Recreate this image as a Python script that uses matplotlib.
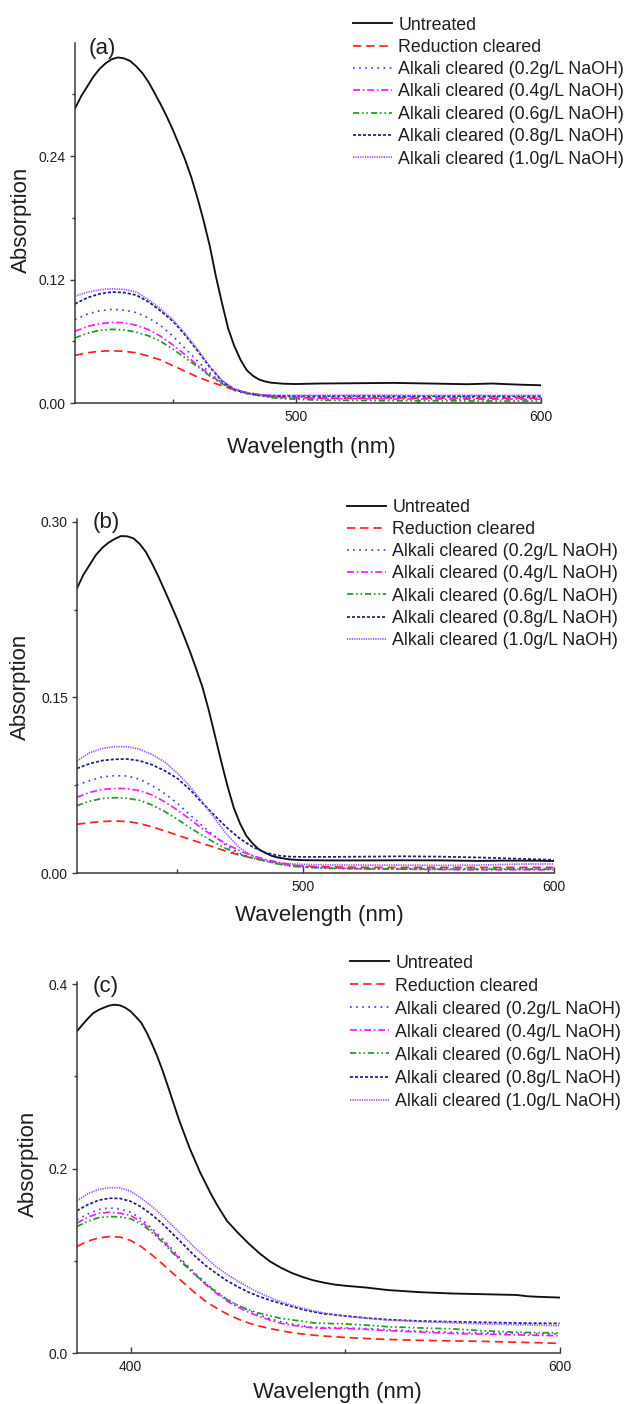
import matplotlib
matplotlib.use("Agg")
import matplotlib.pyplot as plt
from matplotlib.ticker import FixedLocator, FixedFormatter

plt.rcParams['font.family'] = ['Liberation Sans', 'DejaVu Sans']
plt.rcParams['lines.scale_dashes'] = False

# ---------------- data ----------------
series_labels = [
    "Untreated",
    "Reduction cleared",
    "Alkali cleared (0.2g/L NaOH)",
    "Alkali cleared (0.4g/L NaOH)",
    "Alkali cleared (0.6g/L NaOH)",
    "Alkali cleared (0.8g/L NaOH)",
    "Alkali cleared (1.0g/L NaOH)",
]

# panel (a)
wl_a_untreated = [410, 412.5, 415, 417.5, 420, 422.5, 425, 427.5, 430, 432.5, 435, 437.5, 440, 442.5,
                  445, 447.5, 450, 452.5, 455, 457.5, 460, 462.5, 465, 467.5, 470, 472.5, 475, 477.5,
                  480, 482.5, 485, 487.5, 490, 495, 500, 510, 525, 540, 555, 570, 580, 590, 600]
a_untreated = [.2862, .298, .3075, .317, .3245, .330, .334, .3357, .3348, .3323, .327, .3205, .3118, .301,
               .290, .278, .265, .2508, .236, .219, .199, .177, .1525, .123, .097, .0725, .0555, .0424,
               .0323, .0268, .0232, .0212, .020, .019, .0187, .0192, .0195, .0198, .0192, .0185, .0192,
               .0182, .0175]

wl_a = [410, 415, 420, 425, 430, 435, 440, 445, 450, 455, 460, 465, 470, 475,
        480, 485, 490, 495, 500, 510, 525, 540, 555, 570, 585, 600]
a_reduction = [.0465, .049, .0505, .051, .0505, .049, .0458, .042, .0365, .031, .0255, .021, .017, .013,
               .0105, .0085, .007, .006, .0055, .005, .005, .0052, .005, .005, .005, .005]
a_naoh02 = [.0812, .0865, .0898, .0912, .0905, .088, .0828, .0755, .065, .053, .041, .0295, .0195, .0125,
            .0092, .0076, .0067, .0063, .0062, .006, .0062, .006, .0058, .006, .0058, .0058]
a_naoh04 = [.0698, .0745, .0772, .0785, .0782, .0758, .0715, .065, .0565, .047, .037, .0275, .0195, .0135,
            .010, .0078, .0062, .0055, .005, .0045, .0045, .0042, .0042, .004, .004, .004]
a_naoh06 = [.0635, .068, .0708, .0718, .0713, .069, .0655, .060, .0525, .044, .0355, .0265, .019, .0135,
            .010, .0075, .0055, .0045, .004, .003, .0028, .0025, .0025, .0023, .0022, .0022]
a_naoh08 = [.0965, .1025, .1062, .108, .1075, .105, .0985, .0895, .0795, .066, .051, .035, .0215, .0135,
            .0098, .0082, .0074, .0072, .0072, .007, .0072, .007, .0068, .007, .0068, .0068]
a_naoh10 = [.104, .1078, .1102, .1112, .1105, .108, .1005, .0915, .081, .0675, .0525, .036, .0222, .014,
            .010, .0085, .0078, .0077, .0078, .0078, .0079, .0078, .0077, .0078, .0077, .0078]

# panel (b)
wl_b_untreated = [410, 412.5, 415, 417.5, 420, 422.5, 425, 427.5, 430, 432.5, 435, 437.5, 440, 442.5,
                  445, 447.5, 450, 452.5, 455, 457.5, 460, 462.5, 465, 467.5, 470, 472.5, 475, 477.5,
                  480, 482.5, 485, 487.5, 490, 495, 500, 510, 525, 540, 555, 570, 580, 590, 600]
b_untreated = [.2432, .2545, .263, .2715, .2775, .282, .2852, .2877, .2875, .2858, .281, .274, .264, .253,
               .241, .229, .2165, .2032, .1895, .1745, .159, .1395, .1175, .0955, .0745, .056, .0425, .032,
               .0255, .0205, .0175, .015, .0135, .0118, .0112, .011, .011, .0111, .011, .0106, .0108,
               .0108, .0105]

wl_b = [410, 415, 420, 425, 430, 435, 440, 445, 450, 455, 460, 465, 470, 475,
        480, 485, 490, 495, 500, 510, 525, 540, 555, 570, 585, 600]
b_reduction = [.0418, .0432, .0442, .0446, .0442, .0425, .0395, .0362, .0325, .029, .0255, .022, .0185, .0153,
               .013, .011, .009, .0072, .006, .0055, .005, .005, .005, .005, .005, .005]
b_naoh02 = [.0754, .079, .0822, .0833, .083, .0802, .0748, .068, .0597, .050, .0405, .0315, .0227, .017,
            .013, .0105, .008, .0065, .0055, .0045, .004, .004, .0038, .0037, .0037, .0037]
b_naoh04 = [.0649, .069, .0715, .0724, .0722, .0705, .0668, .061, .054, .0462, .038, .0308, .0245, .019,
            .015, .012, .0095, .0075, .006, .0045, .0038, .0035, .0032, .003, .003, .003]
b_naoh06 = [.0577, .0615, .0638, .0645, .064, .0622, .0582, .0527, .0462, .039, .0323, .026, .0205, .016,
            .013, .0105, .008, .0062, .0052, .0042, .0038, .0036, .0035, .0035, .0035, .0035]
b_naoh08 = [.0895, .0935, .0962, .0973, .0975, .096, .0925, .0875, .081, .0715, .060, .049, .0385, .0295,
            .0225, .0178, .0152, .0142, .014, .014, .0142, .0145, .0142, .0135, .0125, .0115]
b_naoh10 = [.0958, .1028, .1065, .108, .108, .1058, .1012, .095, .0855, .0742, .061, .0465, .0325, .0215,
            .0148, .011, .0088, .008, .0076, .0072, .007, .007, .0068, .007, .0078, .008]

# panel (c)
wl_c_untreated = [375, 377.5, 380, 382.5, 385, 387.5, 390, 392.5, 395, 397.5, 400, 402.5, 405, 407.5,
                  410, 412.5, 415, 417.5, 420, 422.5, 425, 427.5, 430, 432.5, 435, 437.5, 440, 442.5,
                  445, 447.5, 450, 455, 460, 465, 470, 475, 480, 485, 490, 495, 500, 510, 520, 535,
                  550, 565, 580, 585, 590, 600]
c_untreated = [.3489, .356, .3625, .3685, .372, .3745, .3768, .3777, .377, .3745, .3705, .3645, .358, .3475,
               .335, .3213, .3057, .2885, .271, .2534, .2377, .2224, .2089, .1955, .184, .1724, .162, .1525,
               .1432, .137, .1306, .119, .1085, .0995, .0928, .0872, .0828, .0792, .0766, .0745, .0732,
               .0712, .0685, .0662, .0648, .064, .0632, .0618, .0612, .0604]

wl_c = [375, 380, 385, 390, 395, 400, 405, 410, 415, 420, 425, 430, 435, 440, 445, 450, 455,
        460, 465, 470, 475, 480, 485, 490, 500, 510, 520, 535, 550, 565, 580, 590, 600]
c_reduction = [.1158, .1215, .125, .1265, .126, .1223, .1155, .1065, .0965, .086, .0758, .0655, .0563,
               .049, .0425, .0372, .0328, .0295, .0268, .0245, .0225, .0209, .0197, .0187, .0172, .016,
               .015, .014, .0135, .0129, .012, .0114, .0108]
c_naoh02 = [.1446, .151, .1558, .1575, .1565, .1528, .1455, .135, .1237, .111, .0985, .0872, .076, .0668,
            .0585, .0518, .0464, .0415, .0375, .0342, .0318, .0298, .0283, .0278, .0275, .0268, .0255,
            .024, .0227, .022, .0216, .0212, .0209]
c_naoh04 = [.141, .1475, .1515, .1528, .1518, .1492, .1425, .133, .122, .1092, .0968, .0855, .0745, .065,
            .0565, .050, .0445, .0398, .036, .0325, .0305, .029, .0275, .0272, .0268, .026, .0245, .023,
            .0215, .0208, .0199, .0195, .019]
c_naoh06 = [.1374, .143, .147, .1482, .1478, .1457, .140, .131, .1202, .108, .096, .0852, .0755, .066,
            .0583, .052, .0472, .0435, .0405, .0379, .0362, .0348, .033, .0325, .0318, .0305, .0288,
            .0275, .0265, .0243, .0228, .0224, .022]
c_naoh08 = [.1546, .161, .1658, .168, .1678, .1647, .1585, .150, .140, .1285, .117, .1053, .095, .0865,
            .0785, .072, .0662, .0615, .0575, .054, .0508, .0475, .045, .0428, .0405, .0383, .0365, .035,
            .0342, .0335, .0328, .0325, .0324]
c_naoh10 = [.1655, .1728, .1775, .1795, .1793, .1755, .168, .159, .1486, .1373, .1258, .1143, .104, .0935,
            .0855, .0782, .0715, .0655, .0605, .0558, .0522, .049, .046, .0437, .0405, .0378, .036, .0343,
            .033, .0318, .031, .0305, .0299]

# ---------------- styles ----------------
styles = [
    dict(color="#111111", linestyle="-", lw=1.35),
    dict(color="#ff2020", linestyle=(0, (6, 3.5)), lw=1.25),
    dict(color="#3a3aff", linestyle=(0, (1.2, 3.2)), lw=1.25),
    dict(color="#ff1aff", linestyle=(0, (5, 2, 1.2, 2)), lw=1.25),
    dict(color="#1f9a1f", linestyle=(0, (4.5, 2, 1.2, 2, 1.2, 2)), lw=1.25),
    dict(color="#1c1c8c", linestyle=(0, (2.2, 1.4)), lw=1.25),
    dict(color="#9a4dff", linestyle=(0, (0.9, 0.8)), lw=1.25),
]

W, H = 629, 1404
fig = plt.figure(figsize=(W / 100, H / 100), dpi=100)


def px_axes(left, top, right, bottom):
    return fig.add_axes([left / W, 1 - bottom / H, (right - left) / W, (bottom - top) / H])


panels = [
    dict(box=(75, 42.7, 540.7, 403.3),
         xs=[wl_a_untreated] + [wl_a] * 6,
         ys=[a_untreated, a_reduction, a_naoh02, a_naoh04, a_naoh06, a_naoh08, a_naoh10],
         xlim=(410, 600), ylim=(0, 0.35),
         xmaj=[500, 600], xmin=[450, 550],
         ymaj=[0.0, 0.12, 0.24], ymin=[0.06, 0.18, 0.30], yfmt=["0.00", "0.12", "0.24"],
         tag="(a)", tag_xy=(0.059, 0.985),
         ylab_xy=(-0.114, 0.508), xlab_xy=(0.507, -0.122),
         leg=(353, 16.5, 0.30)),
    dict(box=(77, 519.3, 553.5, 873.3),
         xs=[wl_b_untreated] + [wl_b] * 6,
         ys=[b_untreated, b_reduction, b_naoh02, b_naoh04, b_naoh06, b_naoh08, b_naoh10],
         xlim=(410, 600), ylim=(0, 0.302),
         xmaj=[500, 600], xmin=[450, 550],
         ymaj=[0.0, 0.15, 0.30], ymin=[0.075, 0.225], yfmt=["0.00", "0.15", "0.30"],
         tag="(b)", tag_xy=(0.061, 0.99),
         ylab_xy=(-0.118, 0.527), xlab_xy=(0.508, -0.12),
         leg=(347, 499, 0.29)),
    dict(box=(77, 982.3, 559.6, 1353.3),
         xs=[wl_c_untreated] + [wl_c] * 6,
         ys=[c_untreated, c_reduction, c_naoh02, c_naoh04, c_naoh06, c_naoh08, c_naoh10],
         xlim=(375, 600), ylim=(0, 0.402),
         xmaj=[400, 600], xmin=[500],
         ymaj=[0.0, 0.2, 0.4], ymin=[0.1, 0.3], yfmt=["0.0", "0.2", "0.4"],
         tag="(c)", tag_xy=(0.060, 0.99),
         ylab_xy=(-0.101, 0.510), xlab_xy=(0.539, -0.106),
         leg=(350, 954.5, 0.34)),
]

text_col = "#1e1e1e"
spine_col = "#3a3a3a"

for p in panels:
    ax = px_axes(*p["box"])
    handles = []
    for x, y, lab, st in zip(p["xs"], p["ys"], series_labels, styles):
        h, = ax.plot(x, y, label=lab, solid_joinstyle="round", **st)
        handles.append(h)

    ax.set_xlim(*p["xlim"])
    ax.set_ylim(*p["ylim"])
    for s in ("top", "right"):
        ax.spines[s].set_visible(False)
    for s in ("left", "bottom"):
        ax.spines[s].set_linewidth(1.1)
        ax.spines[s].set_color(spine_col)

    ax.xaxis.set_major_locator(FixedLocator(p["xmaj"]))
    ax.xaxis.set_minor_locator(FixedLocator(p["xmin"]))
    ax.yaxis.set_major_locator(FixedLocator(p["ymaj"]))
    ax.yaxis.set_major_formatter(FixedFormatter(p["yfmt"]))
    ax.yaxis.set_minor_locator(FixedLocator(p["ymin"]))

    ax.tick_params(axis="x", which="major", direction="in", length=4.2, width=1.0,
                   color=spine_col, labelsize=10, labelcolor=text_col, pad=5)
    ax.tick_params(axis="x", which="minor", direction="in", length=3.0, width=1.0, color=spine_col)
    ax.tick_params(axis="y", which="major", direction="out", length=3.5, width=1.0,
                   color=spine_col, labelsize=10, labelcolor=text_col, pad=3)
    ax.tick_params(axis="y", which="minor", direction="out", length=2.2, width=1.0, color=spine_col)

    ax.set_ylabel("Absorption", fontsize=16, color=text_col, va="center", ha="center")
    ax.yaxis.set_label_coords(*p["ylab_xy"])
    ax.set_xlabel("Wavelength (nm)", fontsize=16, color=text_col, va="center", ha="center")
    ax.xaxis.set_label_coords(*p["xlab_xy"])

    ax.text(p["tag_xy"][0], p["tag_xy"][1], p["tag"], transform=ax.transAxes,
            fontsize=16, color=text_col, ha="center", va="center")

    lx, ly, lsp = p["leg"]
    ax.legend(handles=handles, loc="upper left",
              bbox_to_anchor=(lx / W, 1 - ly / H), bbox_transform=fig.transFigure,
              frameon=False, fontsize=12.8, borderpad=0, borderaxespad=0,
              handlelength=2.2, handletextpad=0.35, labelspacing=lsp,
              labelcolor=text_col)

fig.savefig("out.png", dpi=100)
